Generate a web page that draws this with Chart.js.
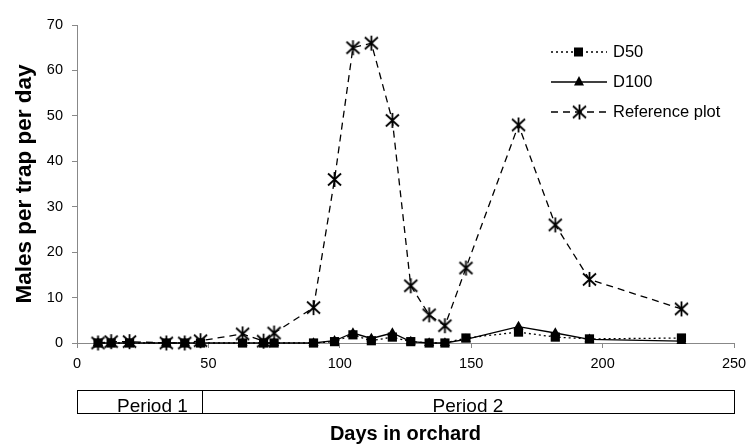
<!DOCTYPE html>
<html>
<head>
<meta charset="utf-8">
<script src="https://cdn.jsdelivr.net/npm/chart.js@4/dist/chart.umd.min.js"></script>
<style>
    html, body { margin: 0; padding: 0; background: #fff; }
    #wrap { width: 749px; height: 448px; position: relative; }
</style>
</head>
<body>
<div id="wrap"><canvas id="trapChart"></canvas></div>
<script>
    // Sampling days and catches (males per trap per day)
    const days = [8, 13, 20, 34, 41, 47, 63, 71, 75, 90, 98, 105, 112, 120, 127, 134, 140, 148, 168, 182, 195, 230];
    const d50 = [0, 0, 0, 0, 0, 0, 0, 0, 0, 0, 0.3, 1.8, 0.5, 1.3, 0.3, 0, 0, 1.1, 2.4, 1.3, 0.9, 1.1];
    const d100 = [0, 0, 0, 0, 0, 0, 0, 0, 0, 0, 0.5, 2.2, 1.0, 2.2, 0.3, 0, 0, 0.8, 3.6, 2.2, 0.8, 0.4];
    const referencePlot = [0, 0.3, 0.3, 0, 0, 0.5, 2.0, 0.4, 2.2, 7.8, 36, 65, 66, 49, 12.6, 6.2, 3.8, 16.5, 48, 26, 14, 7.5];

    const seriesNames = ['D50', 'D100', 'Reference plot'];
    const xTicks = [0, 50, 100, 150, 200, 250];
    const yTicks = [0, 10, 20, 30, 40, 50, 60, 70];

    // trial periods along the day axis
    const periodLabels = ['Period 1', 'Period 2'];
    const periodBounds = [0, 47.5, 250];

    const FONT = '"Liberation Sans", Arial, sans-serif';

    // asterisk marker (X with a vertical bar)
    function makeAsterisk() {
        const c = document.createElement('canvas');
        c.width = 17; c.height = 17;
        const g = c.getContext('2d');
        g.strokeStyle = '#000';
        g.lineWidth = 1.8;
        g.beginPath();
        g.moveTo(2, 2.5); g.lineTo(15, 14.5);
        g.moveTo(15, 2.5); g.lineTo(2, 14.5);
        g.moveTo(8.5, 1); g.lineTo(8.5, 16);
        g.stroke();
        return c;
    }
    const asterisk = makeAsterisk();

    const toPoints = vals => vals.map((v, i) => ({ x: days[i], y: v }));

    const datasets = [{
        label: seriesNames[0],
        data: toPoints(d50),
        borderColor: '#000',
        backgroundColor: '#000',
        borderWidth: 1.3,
        borderDash: [2, 3],
        pointStyle: 'rect',
        pointRadius: 6.5,
        pointBorderWidth: 0,
        clip: false,
        tension: 0
    }, {
        label: seriesNames[1],
        data: toPoints(d100),
        borderColor: '#000',
        backgroundColor: '#000',
        borderWidth: 1.3,
        pointStyle: 'triangle',
        pointRadius: 5.8,
        pointBorderWidth: 0,
        clip: false,
        tension: 0
    }, {
        label: seriesNames[2],
        data: toPoints(referencePlot),
        borderColor: '#000',
        backgroundColor: '#000',
        borderWidth: 1.3,
        borderDash: [7, 5],
        pointStyle: asterisk,
        clip: false,
        tension: 0
    }];

    // legend on the right, each row shows line style + marker
    const legendPlugin = {
        id: 'sideLegend',
        afterDraw(chart) {
            const ctx = chart.ctx;
            const rows = [52, 82, 112];
            ctx.save();
            chart.data.datasets.forEach((ds, i) => {
                const y = rows[i];
                ctx.strokeStyle = '#000';
                ctx.lineWidth = 1.3;
                ctx.setLineDash(ds.borderDash || []);
                ctx.beginPath();
                ctx.moveTo(551, y);
                ctx.lineTo(607, y);
                ctx.stroke();
                ctx.setLineDash([]);
                ctx.fillStyle = '#000';
                if (ds.pointStyle === 'rect') {
                    ctx.fillRect(574, y - 4.5, 9, 9);
                } else if (ds.pointStyle === 'triangle') {
                    ctx.beginPath();
                    ctx.moveTo(579, y - 6);
                    ctx.lineTo(584, y + 3.5);
                    ctx.lineTo(574, y + 3.5);
                    ctx.closePath();
                    ctx.fill();
                } else {
                    ctx.drawImage(asterisk, 571, y - 8.5);
                }
                ctx.font = '16.5px ' + FONT;
                ctx.textBaseline = 'middle';
                ctx.textAlign = 'left';
                ctx.fillText(ds.label, 613, y);
            });
            ctx.restore();
        }
    };

    // boxed period strip under the x axis
    const periodPlugin = {
        id: 'periodStrip',
        afterDraw(chart) {
            const ctx = chart.ctx;
            const xs = chart.scales.x;
            const top = 390, bottom = 413;
            ctx.save();
            ctx.strokeStyle = '#000';
            ctx.lineWidth = 1;
            const x0 = Math.round(xs.getPixelForValue(periodBounds[0])) + 0.5;
            const x1 = Math.round(xs.getPixelForValue(periodBounds[periodBounds.length - 1])) + 0.5;
            ctx.strokeRect(x0, top + 0.5, x1 - x0, bottom - top);
            ctx.font = '19px ' + FONT;
            ctx.fillStyle = '#000';
            ctx.textBaseline = 'alphabetic';
            for (let i = 0; i < periodLabels.length; i++) {
                const a = xs.getPixelForValue(periodBounds[i]);
                const b = xs.getPixelForValue(periodBounds[i + 1]);
                if (i > 0) {
                    ctx.beginPath();
                    ctx.moveTo(Math.round(a) + 0.5, top);
                    ctx.lineTo(Math.round(a) + 0.5, bottom);
                    ctx.stroke();
                }
                // first label sits toward the divider, the rest are centred
                if (i === 0) {
                    ctx.textAlign = 'right';
                    ctx.fillText(periodLabels[i], b - 14, bottom - 1);
                } else {
                    ctx.textAlign = 'center';
                    ctx.fillText(periodLabels[i], (a + b) / 2, bottom - 1);
                }
            }
            ctx.restore();
        }
    };

    new Chart(document.getElementById('trapChart'), {
        type: 'line',
        data: { datasets },
        plugins: [legendPlugin, periodPlugin],
        options: {
            responsive: true,
            maintainAspectRatio: false,
            animation: false,
            layout: { padding: { left: 0, right: 15, top: 25, bottom: 0 } },
            plugins: {
                legend: { display: false },
                tooltip: { enabled: false }
            },
            scales: {
                x: {
                    type: 'linear',
                    min: 0,
                    max: 250,
                    afterBuildTicks: s => { s.ticks = xTicks.map(v => ({ value: v })); },
                    afterFit: s => { s.height = 105; s.paddingLeft = 0; s.paddingRight = 0; },
                    grid: { drawOnChartArea: false, drawTicks: true, tickLength: 5, color: '#888' },
                    border: { color: '#888', width: 1 },
                    ticks: { color: '#000', padding: 7, font: { family: FONT, size: 14.5 }, maxRotation: 0 },
                    title: {
                        display: true,
                        text: 'Days in orchard',
                        color: '#000',
                        font: { family: FONT, size: 20, weight: 'bold' },
                        padding: { top: 0, bottom: 2 }
                    }
                },
                y: {
                    min: 0,
                    max: 70,
                    afterBuildTicks: s => { s.ticks = yTicks.map(v => ({ value: v })); },
                    afterFit: s => { s.width = 77; s.paddingTop = 0; s.paddingBottom = 0; },
                    grid: { drawOnChartArea: false, drawTicks: true, tickLength: 5, color: '#888' },
                    border: { color: '#888', width: 1 },
                    ticks: { color: '#000', padding: 9, font: { family: FONT, size: 14.5 } },
                    title: {
                        display: true,
                        text: 'Males per trap per day',
                        color: '#000',
                        font: { family: FONT, size: 22.5, weight: 'bold' },
                        padding: { top: 11, bottom: 0 }
                    }
                }
            }
        }
    });
</script>
</body>
</html>
